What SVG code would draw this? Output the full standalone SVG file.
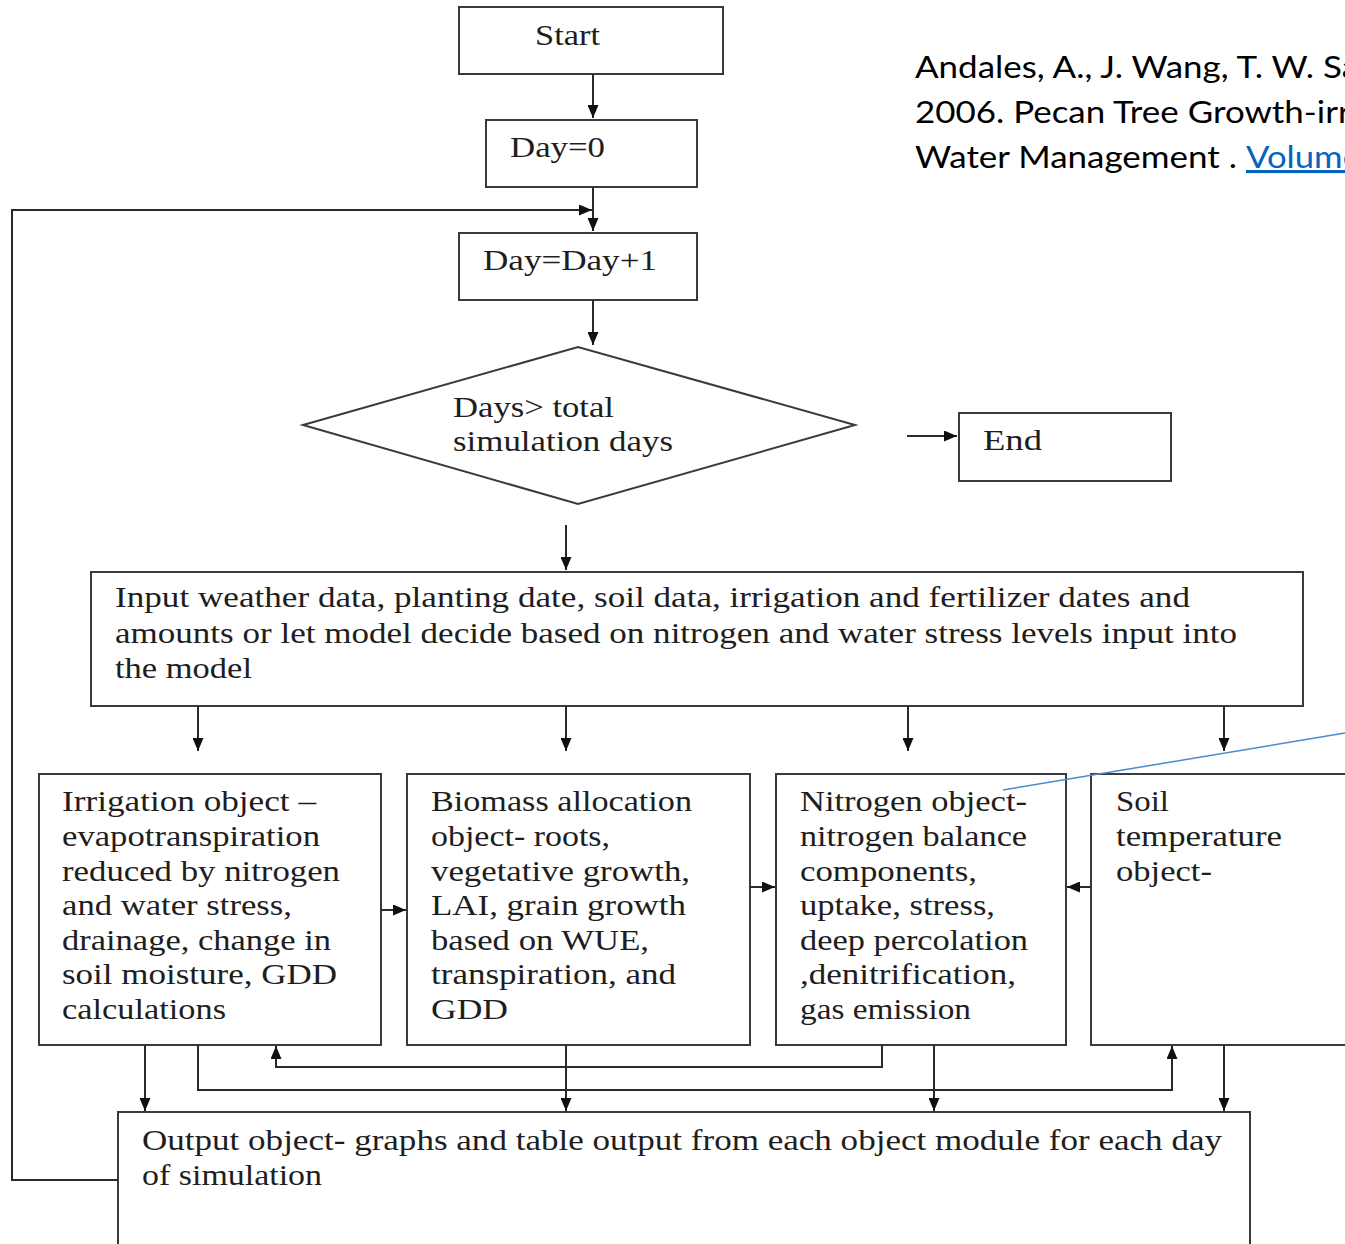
<svg xmlns="http://www.w3.org/2000/svg" width="1345" height="1244" viewBox="0 0 1345 1244">
<style>
.box{fill:#fff;stroke:#3a3a3a;stroke-width:2}
.t{font-family:"Liberation Serif","Times New Roman",serif;font-size:30px;fill:#1e1e1e}
.c{fill:none;stroke:#2a2a2a;stroke-width:2}
.cite{font-family:Lato,"Liberation Sans",sans-serif;font-size:31px;fill:#000}
.link{font-family:Lato,"Liberation Sans",sans-serif;font-size:31px;fill:#0563C1;text-decoration:underline}
</style>
<defs>
<marker id="ah" viewBox="0 0 13 11" refX="13" refY="5.5" markerWidth="13" markerHeight="11" orient="auto" markerUnits="userSpaceOnUse"><path d="M0,0 L13,5.5 L0,11 z" fill="#111"/></marker>
</defs>
<rect width="1345" height="1244" fill="#fff"/>
<g id="citation">
<text class="cite" x="915" y="78" textLength="444" lengthAdjust="spacingAndGlyphs">Andales, A., J. Wang,  T. W. Sa</text>
<text class="cite" x="915" y="123" textLength="444" lengthAdjust="spacingAndGlyphs">2006. Pecan Tree Growth-irri</text>
<text class="cite" x="915" y="168" textLength="322" lengthAdjust="spacingAndGlyphs">Water Management .</text>
<text class="link" x="1246" y="168" textLength="115" lengthAdjust="spacingAndGlyphs">Volume</text>
</g>
<g id="start"><rect class="box" x="459" y="7" width="264" height="67"/><text class="t" x="535" y="45" textLength="65" lengthAdjust="spacingAndGlyphs">Start</text></g>
<g id="day0"><rect class="box" x="486" y="120" width="211" height="67"/><text class="t" x="510" y="157" textLength="95" lengthAdjust="spacingAndGlyphs">Day=0</text></g>
<g id="dayinc"><rect class="box" x="459" y="233" width="238" height="67"/><text class="t" x="483" y="270" textLength="174" lengthAdjust="spacingAndGlyphs">Day=Day+1</text></g>
<g id="decision"><polygon class="box" points="303,425 578,347 855,425 578,504"/><text class="t" x="453" y="417" textLength="161" lengthAdjust="spacingAndGlyphs">Days&gt; total</text><text class="t" x="453" y="451" textLength="220" lengthAdjust="spacingAndGlyphs">simulation  days</text></g>
<g id="end"><rect class="box" x="959" y="413" width="212" height="68"/><text class="t" x="983" y="450" textLength="59" lengthAdjust="spacingAndGlyphs">End</text></g>
<g id="input"><rect class="box" x="91" y="572" width="1212" height="134"/>
<text class="t" x="115" y="607" textLength="1075" lengthAdjust="spacingAndGlyphs">Input weather data, planting date, soil data, irrigation  and fertilizer dates and</text>
<text class="t" x="115" y="643" textLength="1122" lengthAdjust="spacingAndGlyphs">amounts or let model decide based on nitrogen and water stress levels input into</text>
<text class="t" x="115" y="678" textLength="137" lengthAdjust="spacingAndGlyphs">the model</text></g>
<g id="irrigation"><rect class="box" x="39" y="774" width="342" height="271"/>
<text class="t" x="62" y="811" textLength="254" lengthAdjust="spacingAndGlyphs">Irrigation object –</text>
<text class="t" x="62" y="846" textLength="258" lengthAdjust="spacingAndGlyphs">evapotranspiration</text>
<text class="t" x="62" y="881" textLength="278" lengthAdjust="spacingAndGlyphs">reduced by nitrogen</text>
<text class="t" x="62" y="915" textLength="230" lengthAdjust="spacingAndGlyphs">and water stress,</text>
<text class="t" x="62" y="950" textLength="269" lengthAdjust="spacingAndGlyphs">drainage, change in</text>
<text class="t" x="62" y="984" textLength="275" lengthAdjust="spacingAndGlyphs">soil moisture,  GDD</text>
<text class="t" x="62" y="1019" textLength="164" lengthAdjust="spacingAndGlyphs">calculations</text></g>
<g id="biomass"><rect class="box" x="407" y="774" width="343" height="271"/>
<text class="t" x="431" y="811" textLength="261" lengthAdjust="spacingAndGlyphs">Biomass allocation</text>
<text class="t" x="431" y="846" textLength="179" lengthAdjust="spacingAndGlyphs">object- roots,</text>
<text class="t" x="431" y="881" textLength="259" lengthAdjust="spacingAndGlyphs">vegetative growth,</text>
<text class="t" x="431" y="915" textLength="255" lengthAdjust="spacingAndGlyphs">LAI, grain growth</text>
<text class="t" x="431" y="950" textLength="218" lengthAdjust="spacingAndGlyphs">based on WUE,</text>
<text class="t" x="431" y="984" textLength="245" lengthAdjust="spacingAndGlyphs">transpiration, and</text>
<text class="t" x="431" y="1019" textLength="77" lengthAdjust="spacingAndGlyphs">GDD</text></g>
<g id="nitrogen"><rect class="box" x="776" y="774" width="290" height="271"/>
<text class="t" x="800" y="811" textLength="227" lengthAdjust="spacingAndGlyphs">Nitrogen object-</text>
<text class="t" x="800" y="846" textLength="227" lengthAdjust="spacingAndGlyphs">nitrogen balance</text>
<text class="t" x="800" y="881" textLength="177" lengthAdjust="spacingAndGlyphs">components,</text>
<text class="t" x="800" y="915" textLength="195" lengthAdjust="spacingAndGlyphs">uptake, stress,</text>
<text class="t" x="800" y="950" textLength="228" lengthAdjust="spacingAndGlyphs">deep percolation</text>
<text class="t" x="800" y="984" textLength="216" lengthAdjust="spacingAndGlyphs">,denitrification,</text>
<text class="t" x="800" y="1019" textLength="171" lengthAdjust="spacingAndGlyphs">gas emission</text></g>
<g id="soil"><rect class="box" x="1091" y="774" width="280" height="271"/>
<text class="t" x="1116" y="811" textLength="53" lengthAdjust="spacingAndGlyphs">Soil</text>
<text class="t" x="1116" y="846" textLength="166" lengthAdjust="spacingAndGlyphs">temperature</text>
<text class="t" x="1116" y="881" textLength="96" lengthAdjust="spacingAndGlyphs">object-</text></g>
<g id="output"><rect class="box" x="118" y="1112" width="1132" height="150"/>
<text class="t" x="142" y="1150" textLength="1080" lengthAdjust="spacingAndGlyphs">Output object- graphs and table output from each object module for each day</text>
<text class="t" x="142" y="1185" textLength="180" lengthAdjust="spacingAndGlyphs">of simulation</text></g>
<g id="connectors">
<path class="c" d="M593,74 V118" marker-end="url(#ah)"/>
<path class="c" d="M593,187 V231" marker-end="url(#ah)"/>
<path class="c" d="M118,1180 H12 V210 H592" marker-end="url(#ah)"/>
<path class="c" d="M593,300 V345" marker-end="url(#ah)"/>
<path class="c" d="M907,436 H957" marker-end="url(#ah)"/>
<path class="c" d="M566,525 V570" marker-end="url(#ah)"/>
<path class="c" d="M198,706 V751" marker-end="url(#ah)"/>
<path class="c" d="M566,706 V751" marker-end="url(#ah)"/>
<path class="c" d="M908,706 V751" marker-end="url(#ah)"/>
<path class="c" d="M1224,706 V751" marker-end="url(#ah)"/>
<path class="c" d="M381,910 H406" marker-end="url(#ah)"/>
<path class="c" d="M750,887 H775" marker-end="url(#ah)"/>
<path class="c" d="M1091,887 H1067" marker-end="url(#ah)"/>
<path class="c" d="M145,1045 V1111" marker-end="url(#ah)"/>
<path class="c" d="M566,1045 V1111" marker-end="url(#ah)"/>
<path class="c" d="M934,1045 V1111" marker-end="url(#ah)"/>
<path class="c" d="M1224,1045 V1111" marker-end="url(#ah)"/>
<path class="c" d="M198,1045 V1090 H1172 V1046" marker-end="url(#ah)"/>
<path class="c" d="M882,1045 V1067 H276 V1046" marker-end="url(#ah)"/>
<path d="M1003,790 L1345,733" fill="none" stroke="#4a8ad0" stroke-width="1.5"/>
</g>
</svg>
